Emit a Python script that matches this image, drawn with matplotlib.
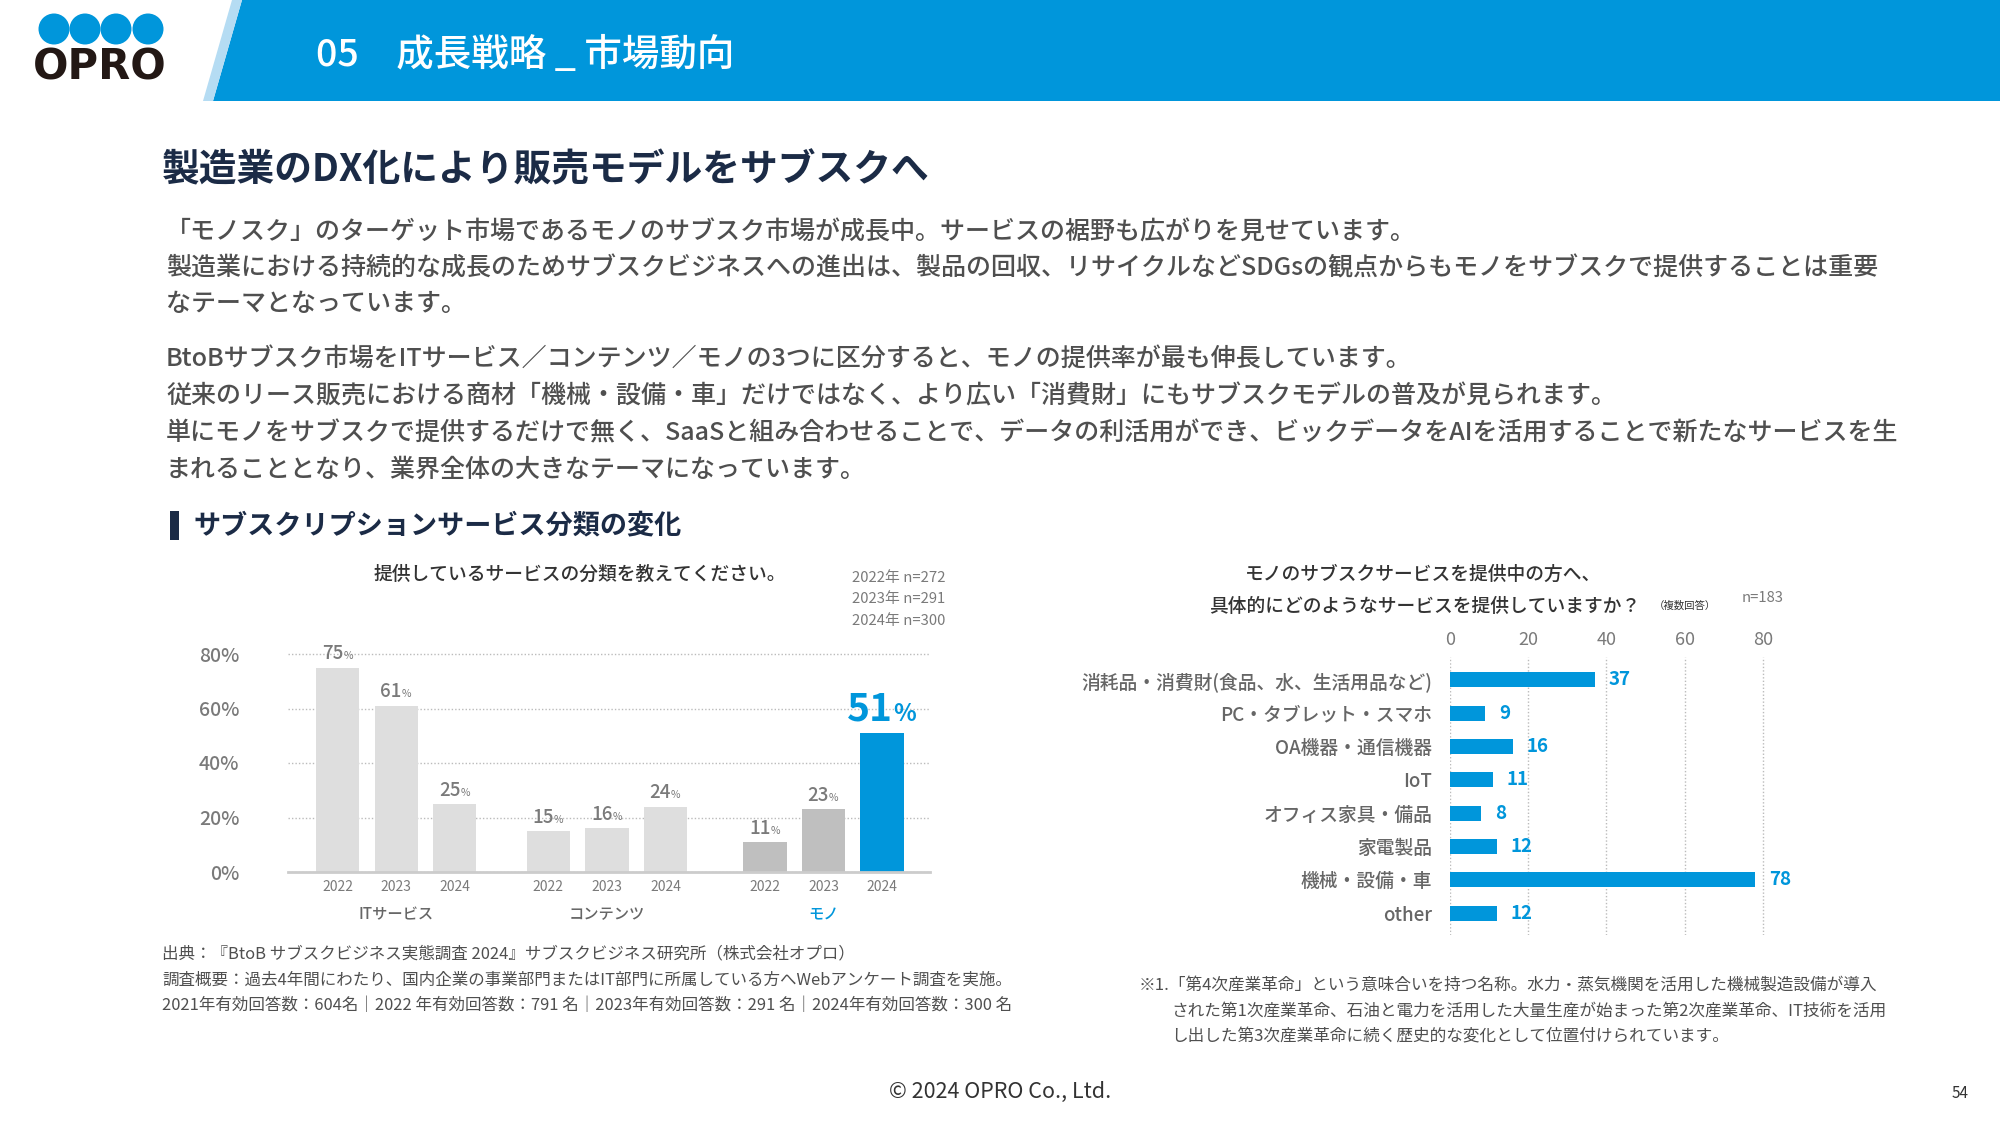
import matplotlib
matplotlib.use('Agg')
import matplotlib.pyplot as plt
from matplotlib.patches import Polygon, Circle, Rectangle
import numpy as np

plt.rcParams['font.family'] = ['Noto Sans CJK JP', 'DejaVu Sans']

BLUE = '#0096DB'
NAVY = '#1B2B46'
TXT = '#4f4f4f'
LBL = '#7a7a7a'

# --- left chart data ---
groups = ['ITサービス', 'コンテンツ', 'モノ']
years = ['2022', '2023', '2024']
it_vals = [75, 61, 25]
content_vals = [15, 16, 24]
mono_vals = [11, 23, 51]
n_labels = ['2022年 n=272', '2023年 n=291', '2024年 n=300']
pct_ticks = [0, 20, 40, 60, 80]

# --- right chart data ---
categories = ['消耗品・消費財(食品、水、生活用品など)', 'PC・タブレット・スマホ', 'OA機器・通信機器',
              'IoT', 'オフィス家具・備品', '家電製品', '機械・設備・車', 'other']
counts = [37, 9, 16, 11, 8, 12, 78, 12]
count_ticks = [0, 20, 40, 60, 80]

para1 = ['「モノスク」のターゲット市場であるモノのサブスク市場が成長中。サービスの裾野も広がりを見せています。',
         '製造業における持続的な成長のためサブスクビジネスへの進出は、製品の回収、リサイクルなどSDGsの観点からもモノをサブスクで提供することは重要',
         'なテーマとなっています。']
para2 = ['BtoBサブスク市場をITサービス／コンテンツ／モノの3つに区分すると、モノの提供率が最も伸長しています。',
         '従来のリース販売における商材「機械・設備・車」だけではなく、より広い「消費財」にもサブスクモデルの普及が見られます。',
         '単にモノをサブスクで提供するだけで無く、SaaSと組み合わせることで、データの利活用ができ、ビックデータをAIを活用することで新たなサービスを生',
         'まれることとなり、業界全体の大きなテーマになっています。']
notes_left = ['出典：『BtoB サブスクビジネス実態調査 2024』サブスクビジネス研究所（株式会社オプロ）',
              '調査概要：過去4年間にわたり、国内企業の事業部門またはIT部門に所属している方へWebアンケート調査を実施。',
              '2021年有効回答数：604名｜2022 年有効回答数：791 名｜2023年有効回答数：291 名｜2024年有効回答数：300 名']
notes_right = ['※1.「第4次産業革命」という意味合いを持つ名称。水力・蒸気機関を活用した機械製造設備が導入',
               'された第1次産業革命、石油と電力を活用した大量生産が始まった第2次産業革命、IT技術を活用',
               'し出した第3次産業革命に続く歴史的な変化として位置付けられています。']

fig = plt.figure(figsize=(20, 11.25), dpi=100)
bg = fig.add_axes([0, 0, 1, 1])
bg.set_xlim(0, 2000)
bg.set_ylim(1125, 0)
bg.axis('off')

# header band
bg.add_patch(Polygon([(242, 0), (2000, 0), (2000, 101), (213, 101)], color=BLUE, lw=0))
bg.add_patch(Polygon([(232, 0), (242, 0), (213, 101), (203, 101)], color='#b5dcf3', lw=0))
for cx in [54, 85, 116, 148]:
    bg.add_patch(Circle((cx, 29), 15.5, color=BLUE, lw=0))
bg.text(100, 68, 'OPRO', fontsize=30, fontweight='black', family='DejaVu Sans',
        color='#231815', ha='center', va='center')
bg.text(316, 55, '05　成長戦略 _ 市場動向', fontsize=27, color='white', fontweight='medium',
        va='center', ha='left')

bg.text(162, 170, '製造業のDX化により販売モデルをサブスクへ', fontsize=27.2, color=NAVY,
        fontweight='bold', va='center')
for i, line in enumerate(para1):
    bg.text(166, 232 + i * 36, line, fontsize=18, color=TXT, fontweight='medium', va='center')
for i, line in enumerate(para2):
    bg.text(166, 360 + i * 36.6, line, fontsize=18, color=TXT, fontweight='medium', va='center')

bg.add_patch(Rectangle((170, 511), 9, 29, color=NAVY, lw=0))
bg.text(193, 525, 'サブスクリプションサービス分類の変化', fontsize=19.5, color=NAVY,
        fontweight='bold', va='center')

# left chart titles
bg.text(580, 574, '提供しているサービスの分類を教えてください。', fontsize=13.5, color='#333333',
        fontweight='medium', ha='center', va='center')
for i, t in enumerate(n_labels):
    bg.text(852, 578 + i * 21.5, t, fontsize=10.7, color=LBL, va='center')

# right chart titles
bg.text(1423, 574, 'モノのサブスクサービスを提供中の方へ、', fontsize=13.5, color='#333333',
        fontweight='medium', ha='center', va='center')
bg.text(1425, 606, '具体的にどのようなサービスを提供していますか？', fontsize=13.5, color='#333333',
        fontweight='medium', ha='center', va='center')
bg.text(1654, 606, '（複数回答）', fontsize=7.5, color='#333333', va='center')
bg.text(1742, 598, 'n=183', fontsize=10.7, color=LBL, va='center')

# footnotes
for i, line in enumerate(notes_left):
    bg.text(162, 954 + i * 26, line, fontsize=11.9, color=TXT, va='center')
bg.text(1139, 986, notes_right[0], fontsize=12, color=TXT, va='center')
for i, line in enumerate(notes_right[1:]):
    bg.text(1171, 1011 + i * 26, line, fontsize=12, color=TXT, va='center')

bg.text(1000, 1092, '© 2024 OPRO Co., Ltd.', fontsize=15.5, color='#333333', ha='center', va='center')
bg.text(1960, 1094, '54', fontsize=11, color='#333333', ha='center', va='center')

# ---- left bar chart ----
axL = fig.add_axes([288 / 2000, 1 - 872 / 1125, (930 - 288) / 2000, 84 * 2.725 / 1125])
group_starts = [0, 3.6, 7.3]
all_vals = [it_vals, content_vals, mono_vals]
bar_colors = [['#dedede'] * 3, ['#dedede'] * 3, ['#bfbfbf', '#bfbfbf', BLUE]]
tick_pos = []
for g, (start, vals) in enumerate(zip(group_starts, all_vals)):
    xs = start + np.arange(len(vals))
    tick_pos.extend(xs)
    axL.bar(xs, vals, width=0.74, color=bar_colors[g], zorder=3)
    for j, (x, v) in enumerate(zip(xs, vals)):
        if g == 2 and j == 2:
            axL.annotate(str(v), (x, v), xytext=(8, 9), textcoords='offset points',
                         ha='right', va='baseline', fontsize=28, fontweight='bold', color=BLUE)
            axL.annotate('%', (x, v), xytext=(8, 9), textcoords='offset points',
                         ha='left', va='baseline', fontsize=17, fontweight='bold', color=BLUE)
        else:
            axL.annotate(str(v), (x, v), xytext=(4, 6), textcoords='offset points',
                         ha='right', va='baseline', fontsize=13.5, fontweight='medium', color=LBL)
            axL.annotate('%', (x, v), xytext=(4, 6), textcoords='offset points',
                         ha='left', va='baseline', fontsize=7.5, color=LBL)
    axL.annotate(groups[g], (xs[1], 0), xytext=(0, -31), textcoords='offset points',
                 ha='center', va='center', fontsize=11, fontweight='medium',
                 color=BLUE if g == 2 else '#666666')

axL.set_xlim(-0.85, 10.12)
axL.set_ylim(0, 84)
axL.set_xticks(tick_pos)
axL.set_xticklabels(years * 3)
axL.set_yticks(pct_ticks)
axL.set_yticklabels([f'{t}%' for t in pct_ticks])
axL.tick_params(axis='x', length=0, pad=6, labelsize=10, labelcolor=LBL)
axL.tick_params(axis='y', length=0, pad=35, labelsize=14, labelcolor=LBL)
for lbl in axL.get_yticklabels():
    lbl.set_fontweight('medium')
axL.yaxis.grid(True, linestyle=(0, (1, 1.5)), color='#bbbbbb', lw=1, zorder=0)
for s in ['top', 'right', 'left']:
    axL.spines[s].set_visible(False)
axL.spines['bottom'].set_color('#cccccc')
axL.spines['bottom'].set_linewidth(2)
axL.spines['bottom'].set_zorder(4)
axL.set_facecolor('none')

# ---- right bar chart ----
axR = fig.add_axes([1450 / 2000, 1 - 935 / 1125, 352 / 2000, 278 / 1125])
ypos = np.arange(len(categories))
axR.barh(ypos, counts, height=0.45, color=BLUE, zorder=3)
for y, v in zip(ypos, counts):
    axR.annotate(str(v), (v, y), xytext=(10, 0), textcoords='offset points',
                 ha='left', va='center', fontsize=13.5, fontweight='bold', color=BLUE)
axR.set_xlim(0, 90)
axR.set_ylim(7.66, -0.69)
axR.xaxis.tick_top()
axR.set_xticks(count_ticks)
axR.set_yticks(ypos)
axR.set_yticklabels(categories)
axR.tick_params(axis='x', length=0, pad=6, labelsize=13, labelcolor=LBL)
axR.tick_params(axis='y', length=0, pad=13, labelsize=13.5, labelcolor='#666666')
for lbl in axR.get_yticklabels():
    lbl.set_fontweight('medium')
axR.xaxis.grid(True, linestyle=(0, (1, 1.5)), color='#bbbbbb', lw=1, zorder=0)
for s in axR.spines.values():
    s.set_visible(False)
axR.set_facecolor('none')

fig.savefig('out.png', dpi=100)
